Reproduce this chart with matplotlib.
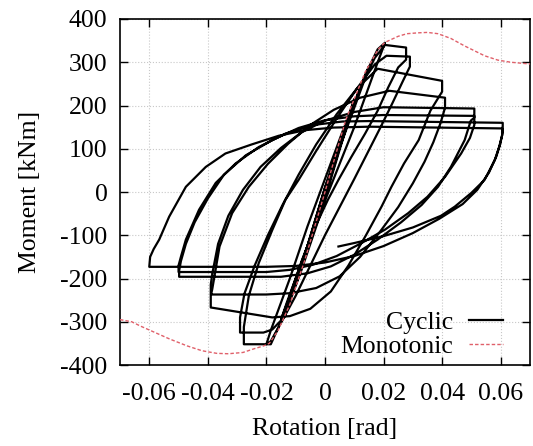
import matplotlib
matplotlib.use("Agg")
import matplotlib.pyplot as plt

# monotonic test
mono_rot = [-0.070, -0.066, -0.063, -0.058, -0.053, -0.047, -0.042, -0.037, -0.033, -0.028,
            -0.024, -0.021, -0.019, -0.016, -0.012, -0.007, 0.0, 0.007, 0.0137, 0.0182,
            0.0205, 0.025, 0.028, 0.0318, 0.035, 0.0386, 0.043, 0.0476, 0.0545, 0.059,
            0.0635, 0.070]
mono_mom = [-295, -300, -310, -325, -340, -356, -367, -373, -374, -371,
            -362, -356, -350, -320, -260, -160, 0, 165, 277, 330,
            346, 360, 366, 368, 369, 366, 355, 338, 315, 305,
            300, 296]

# cyclic test, one half cycle per row
cyc_rot = [
    0.0, 0.005, -0.005, 0.0, 0.01, 0.0, -0.01,
    0.0, 0.008, 0.015, 0.013, 0.0, -0.008, -0.015,
    -0.013, 0.0, 0.008, 0.014, 0.018, 0.0205,
    0.018, 0.01, 0.0, -0.008, -0.014, -0.0185, -0.02,
    # 0.03 a
    -0.0185, -0.012, -0.006, 0.0, 0.006, 0.012, 0.017, 0.0205, 0.0277, 0.0277,
    0.025, 0.0216, 0.018, 0.0137, 0.009, 0.0046, 0.001, -0.004, -0.008, -0.012, -0.015, -0.0185, -0.0277, -0.0277,
    # 0.03 b
    -0.026, -0.0226, -0.018, -0.0135, -0.009, -0.003, 0.004, 0.011, 0.017, 0.021, 0.029, 0.029,
    0.0265, 0.023, 0.019, 0.0145, 0.01, 0.005, 0.0, -0.005, -0.01, -0.014, -0.018, -0.021, -0.029, -0.029,
    # 0.04 a
    -0.0275, -0.024, -0.0195, -0.0145, -0.009, -0.003, 0.004, 0.011, 0.018, 0.040, 0.040,
    0.036, 0.032, 0.027, 0.0227, 0.0193, 0.014, 0.008, 0.002, -0.005, -0.012, -0.018, -0.039, -0.039,
    # 0.04 b
    -0.0385, -0.036, -0.0317, -0.026, -0.0195, -0.0125, -0.005, 0.003, 0.012, 0.022, 0.041, 0.041,
    0.0395, 0.037, 0.034, 0.030, 0.025, 0.019, 0.012, 0.005, -0.003, -0.012, -0.02, -0.039, -0.039,
    # 0.05 a
    -0.0385, -0.0365, -0.033, -0.028, -0.022, -0.015, -0.008, 0.0, 0.01, 0.02, 0.051, 0.051,
    0.0498, 0.0477, 0.043, 0.0386, 0.033, 0.026, 0.018, 0.01, 0.002, -0.006, -0.015, -0.0498, -0.0498,
    # 0.05 b
    -0.0492, -0.0475, -0.0445, -0.04, -0.0345, -0.027, -0.018, -0.009, 0.0, 0.01, 0.02, 0.051, 0.051,
    0.0495, 0.0465, 0.041, 0.035, 0.0284, 0.0205, 0.0125, 0.004, -0.004, -0.012, -0.02, -0.050, -0.050,
    # 0.06 a
    -0.0492, -0.0475, -0.043, -0.0373, -0.0305, -0.0226, -0.0135, -0.004, 0.006, 0.015, 0.0607, 0.0607,
    0.0598, 0.0585, 0.056, 0.052, 0.047, 0.039, 0.03, 0.02, 0.01, 0.0, -0.01, -0.02, -0.060,
    # 0.06 b
    -0.0597, -0.0585, -0.0566, -0.0532, -0.0475, -0.0407, -0.034, -0.025, -0.0158, -0.0067, 0.003, 0.015, 0.0605, 0.0605,
    0.0595, 0.058, 0.0545, 0.050, 0.0443, 0.0396, 0.03, 0.02, 0.01, 0.0046,
]
cyc_mom = [
    0, 115, -115, -5, 215, 10, -215,
    -10, 170, 290, 250, 10, -170, -295,
    -255, -15, 165, 275, 330, 345,
    300, 150, -20, -180, -290, -345, -352,
    # 0.03 a
    -320, -200, -80, 30, 140, 240, 310, 340, 334, 306,
    288, 242, 188, 135, 81, 28, -18, -90, -160, -240, -300, -352, -352, -312,
    # 0.03 b
    -240, -164, -88, -18, 28, 95, 170, 240, 295, 315, 313, 290,
    255, 205, 150, 90, 30, -35, -100, -170, -240, -290, -318, -325, -325, -290,
    # 0.04 a
    -235, -170, -100, -30, 40, 110, 180, 240, 285, 257, 232,
    188, 120, 66, 12, -34, -100, -170, -230, -270, -287, -290, -267, -240,
    # 0.04 b
    -225, -126, -49, 12, 65, 112, 155, 190, 218, 234, 218, 195,
    160, 115, 70, 20, -35, -90, -150, -195, -222, -234, -237, -237, -214,
    # 0.05 a
    -190, -120, -55, 5, 58, 102, 138, 165, 185, 196, 193, 172,
    165, 120, 58, 12, -30, -70, -110, -145, -172, -188, -196, -196, -182,
    # 0.05 b
    -160, -120, -70, -15, 40, 85, 120, 148, 166, 175, 178, 176, 155,
    125, 89, 35, -11, -49, -87, -118, -148, -168, -180, -185, -185, -170,
    # 0.06 a
    -150, -110, -41, 21, 66, 104, 135, 155, 163, 164, 160, 138,
    110, 82, 45, 5, -28, -62, -95, -125, -148, -163, -171, -173, -173,
    # 0.06 b
    -150, -132, -110, -57, 12, 58, 89, 110, 130, 143, 149, 151, 147, 131,
    105, 74, 28, -2, -34, -55, -82, -102, -118, -126,
]

x_ticks = [-0.06, -0.04, -0.02, 0, 0.02, 0.04, 0.06]
x_labels = ["-0.06", "-0.04", "-0.02", "0", "0.02", "0.04", "0.06"]
y_ticks = [-400, -300, -200, -100, 0, 100, 200, 300, 400]

plt.rcParams["font.family"] = "serif"
plt.rcParams["font.serif"] = ["Liberation Serif", "DejaVu Serif"]
plt.rcParams["axes.unicode_minus"] = False

fs = 18.5
fig = plt.figure(figsize=(5.33, 4.46), dpi=100)
ax = fig.add_axes([0.2251, 0.1816, 0.7692, 0.7758])

ax.plot(cyc_rot, cyc_mom, color="black", lw=1.6, label="Cyclic", zorder=3)
ax.plot(mono_rot, mono_mom, color="#e0606a", lw=1.0, ls=(0, (2.5, 1.5)),
        label="Monotonic", zorder=4)

ax.set_xlim(-0.07, 0.07)
ax.set_ylim(-400, 400)
ax.set_xticks(x_ticks)
ax.set_xticklabels(x_labels)
ax.set_yticks(y_ticks)
ax.grid(True, color="#c8c8c8", ls=":", lw=0.8)
ax.tick_params(direction="in", top=True, right=True, length=6, width=1,
               labelsize=fs)
ax.tick_params(axis="x", pad=13)
ax.tick_params(axis="y", pad=9)
for s in ax.spines.values():
    s.set_linewidth(1.2)

ax.set_xlabel("Rotation [rad]", fontsize=fs, labelpad=9)
ax.set_ylabel("Moment [kNm]", fontsize=fs, labelpad=14)

ax.legend(loc="lower right", bbox_to_anchor=(0.935, 0.02), markerfirst=False,
          frameon=False, fontsize=fs, handlelength=1.35, handletextpad=0.6,
          labelspacing=0.05, borderpad=0, borderaxespad=0)

fig.savefig("out.png", dpi=100)
